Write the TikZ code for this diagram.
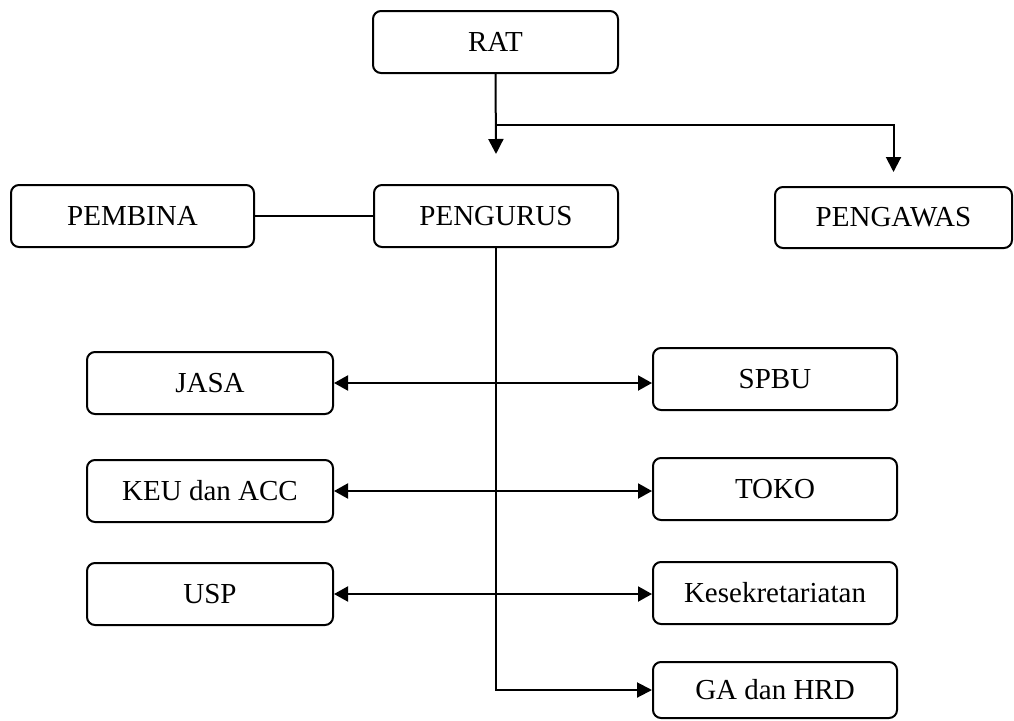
\documentclass[tikz,border=0pt]{standalone}
\usepackage{fontspec}
\setmainfont{Liberation Serif}
\usetikzlibrary{arrows.meta}
\begin{document}
\begin{tikzpicture}[x=1pt,y=-1pt,
  box/.style={draw, line width=2pt, rounded corners=8pt, inner sep=0pt,
    minimum height=62pt, font=\fontsize{29}{34}\selectfont},
  conn/.style={line width=2pt},
  arr/.style={conn, -{Triangle[length=15pt,width=15pt]}},
  darr/.style={conn, {Triangle[length=14pt,width=15pt]}-{Triangle[length=14pt,width=15pt]}}]
\useasboundingbox (0,0) rectangle (1014,720);
\node[box, minimum width=245pt] (rat) at (495.5,42) {RAT};
\node[box, minimum width=243pt] (pembina) at (132.5,216) {PEMBINA};
\node[box, minimum width=244pt] (pengurus) at (496,216) {PENGURUS};
\node[box, minimum width=237pt, minimum height=61pt] (pengawas) at (893.5,217.5) {PENGAWAS};
\node[box, minimum width=246pt] (jasa) at (210,383) {JASA};
\node[box, minimum width=246pt] (keu) at (210,491) {KEU dan ACC};
\node[box, minimum width=246pt] (usp) at (210,594) {USP};
\node[box, minimum width=244pt] (spbu) at (775,379) {SPBU};
\node[box, minimum width=244pt] (toko) at (775,489) {TOKO};
\node[box, minimum width=244pt] (kes) at (775,593) {Kesekretariatan};
\node[box, minimum width=244pt, minimum height=56pt] (ga) at (775,690) {GA dan HRD};
\coordinate (split) at (rat.south |- 0,125);
\draw[arr] (rat.south) -- ([yshift=30pt]pengurus.north);
\draw[arr] (split) -| ([yshift=14pt]pengawas.north);
\draw[conn] (pembina) -- (pengurus);
\draw[arr] (pengurus.south) |- (ga.west);
\draw[darr] (jasa.east) -- (jasa.east -| spbu.west);
\draw[darr] (keu.east) -- (keu.east -| toko.west);
\draw[darr] (usp.east) -- (usp.east -| kes.west);
\end{tikzpicture}
\end{document}
